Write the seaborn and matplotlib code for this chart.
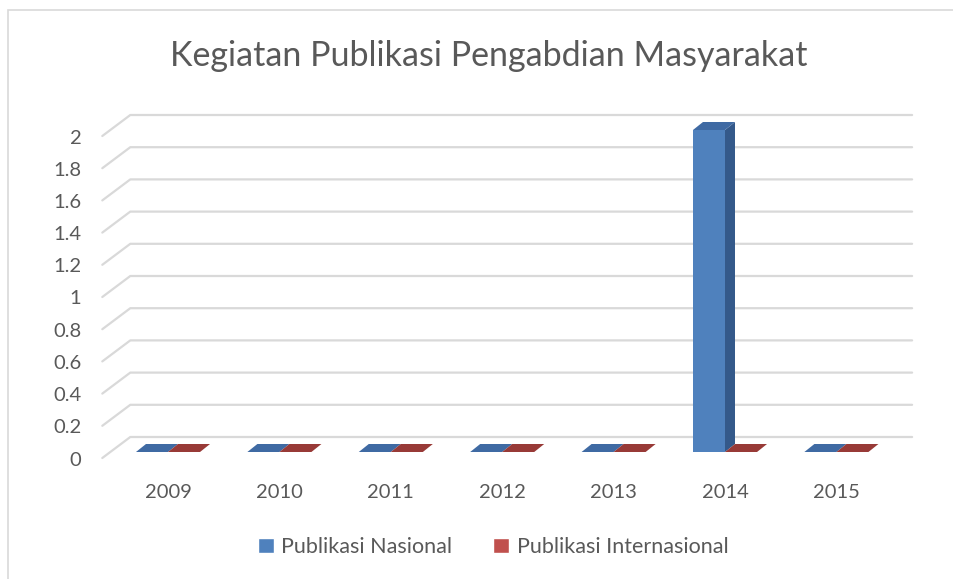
import numpy as np
import pandas as pd
import matplotlib
matplotlib.use('Agg')
import matplotlib.pyplot as plt
import matplotlib.transforms as mtransforms
from matplotlib.patches import Polygon, Patch, Rectangle
from matplotlib.lines import Line2D
import seaborn as sns

years = ['2009', '2010', '2011', '2012', '2013', '2014', '2015']
nasional = [0, 0, 0, 0, 0, 2, 0]
internasional = [0, 0, 0, 0, 0, 0, 0]
series = ['Publikasi Nasional', 'Publikasi Internasional']
yticks = [0, 0.2, 0.4, 0.6, 0.8, 1, 1.2, 1.4, 1.6, 1.8, 2]
ytick_labels = ['0', '0.2', '0.4', '0.6', '0.8', '1', '1.2', '1.4', '1.6', '1.8', '2']

df = pd.DataFrame({
    'Tahun': years * 2,
    'Jumlah': nasional + internasional,
    'Seri': [series[0]] * len(years) + [series[1]] * len(years),
})

front = ['#4F81BD', '#C0504D']
top = ['#3F6AA3', '#983A37']
side = ['#34598A', '#7F2F2D']
grid_c = '#D9D9D9'
text_c = '#595959'

sns.set_style('white')
plt.rcParams['font.family'] = ['Lato', 'DejaVu Sans']

fig = plt.figure(figsize=(9.54, 5.79), dpi=100)
ax = fig.add_axes([112.3 / 954, 127 / 579, 779.8 / 954, 322 / 579])

sns.barplot(data=df, x='Tahun', y='Jumlah', hue='Seri', palette=front,
            width=0.575, saturation=1, linewidth=0, ax=ax, legend=False)
ax.set_xlim(-0.5, 6.5)
ax.set_ylim(0, 2)
for s in ax.spines.values():
    s.set_visible(False)
ax.set_xlabel('')
ax.set_ylabel('')
ax.set_yticks([])
ax.tick_params(axis='x', length=0, pad=23, labelsize=14.5, labelcolor=text_c)

ident = mtransforms.IdentityTransform()
ytr = ax.get_yaxis_transform()
x_left = ax.transAxes.transform((0, 0))[0]
x_right = ax.transAxes.transform((1, 0))[0]

# floor/wall gridlines (3d look)
for v in yticks:
    yb = ytr.transform((0, v))[1]
    xs = [x_left - 10, x_left + 18, x_right + 20]
    ys = [yb - 6, yb + 15, yb + 15]
    ax.add_line(Line2D(xs, ys, transform=ident, color=grid_c, lw=1.6,
                       clip_on=False, zorder=0.5))

lab_tr = mtransforms.offset_copy(ytr, fig=fig, x=-31, y=-8, units='dots')
for v, t in zip(yticks, ytick_labels):
    ax.text(0, v, t, transform=lab_tr, ha='right', va='center',
            fontsize=14.5, color=text_c)

# depth faces of the bars
dx, dy = 10, 8
bars = sorted(ax.patches, key=lambda p: p.get_x())
for k, p in enumerate(bars):
    ci = 0 if p.get_facecolor()[2] > p.get_facecolor()[0] else 1
    x0, x1 = p.get_x(), p.get_x() + p.get_width()
    h = p.get_height()
    (ax0, ay0) = ax.transData.transform((x0, 0))
    (ax1, ay1) = ax.transData.transform((x1, h))
    z = 2 + k * 0.1
    sd = Polygon([(ax1, ay0), (ax1 + dx, ay0 + dy), (ax1 + dx, ay1 + dy), (ax1, ay1)],
                 closed=True, transform=ident, facecolor=side[ci], lw=0,
                 clip_on=False, zorder=z)
    tp = Polygon([(ax0, ay1), (ax1, ay1), (ax1 + dx, ay1 + dy), (ax0 + dx, ay1 + dy)],
                 closed=True, transform=ident, facecolor=top[ci], lw=0,
                 clip_on=False, zorder=z + 0.01)
    ax.add_patch(sd)
    ax.add_patch(tp)
    p.set_zorder(z + 0.05)
    p.set_clip_on(False)

fig.text(489 / 954, 1 - 56 / 579, 'Kegiatan Publikasi Pengabdian Masyarakat',
         ha='center', va='center', fontsize=24.5, color=text_c)

handles = [Patch(facecolor=front[0], label=series[0]),
           Patch(facecolor=front[1], label=series[1])]
leg = fig.legend(handles=handles, loc='center', bbox_to_anchor=(493 / 954, 32 / 579),
                 ncol=2, frameon=False, fontsize=15.5, handlelength=0.75,
                 handleheight=0.75, handletextpad=0.35, columnspacing=1.9)
for t in leg.get_texts():
    t.set_color(text_c)

fig.add_artist(Rectangle((8 / 954, -0.1), 1.2, 1.1 - 10 / 579,
                         transform=fig.transFigure, fill=False,
                         edgecolor=grid_c, lw=1.2))

fig.savefig('out.png', dpi=100)
